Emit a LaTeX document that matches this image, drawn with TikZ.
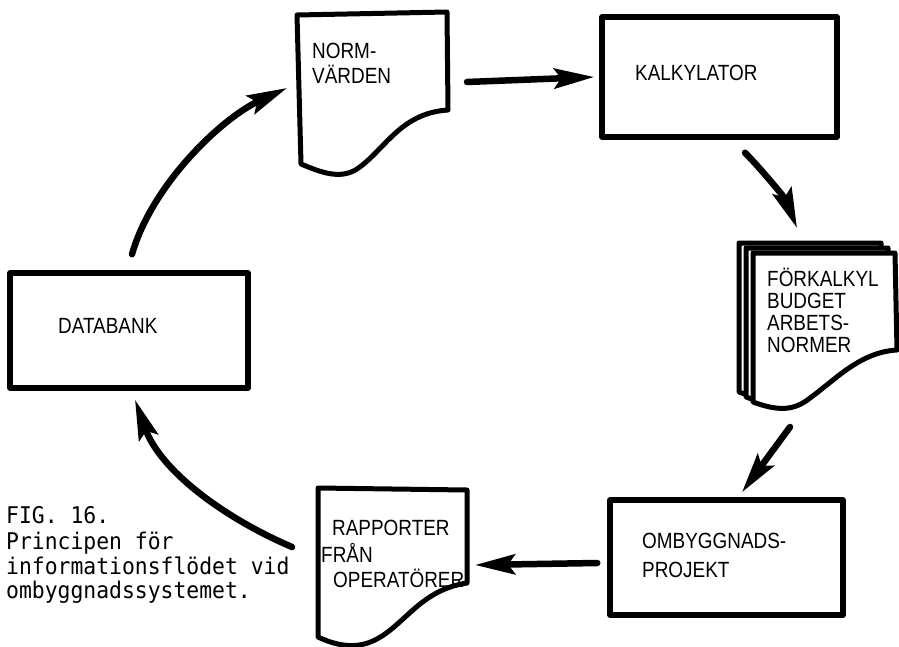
\documentclass[tikz,border=0pt]{standalone}
\usepackage{fontspec}
\usetikzlibrary{arrows.meta,calc}
\setmainfont{Liberation Sans}
\newfontfamily\boxfont[FakeStretch=0.86]{Liberation Sans}
\newfontfamily\capfont[FakeStretch=0.93]{DejaVu Sans Mono}

\begin{document}
\begin{tikzpicture}[x=1pt,y=-1pt,
  frame/.style={draw=black, line width=5.5pt, line join=round, fill=white, inner sep=0pt},
  page/.style={draw=black, line width=5pt, line join=round, fill=white},
  area/.style={inner sep=0pt, outer sep=0pt},
  boxlabel/.style={font=\boxfont\fontsize{22}{24}\selectfont, anchor=base west, inner sep=0pt},
  caption/.style={font=\capfont\fontsize{23}{25}\selectfont, anchor=base west, inner sep=0pt},
  flow/.style={draw=black, line width=6.5pt, line cap=round,
    -{Stealth[length=40pt,width=20pt,inset=7pt]}},
]
% canvas
\fill[white] (0,0) rectangle (899,646);
\useasboundingbox (0,0) rectangle (899,646);

% ---- document: NORM-VÄRDEN
\draw[page] (297,15) -- (447,12) -- (448,110)
  .. controls (400,113) and (385,150) .. (357,169)
  .. controls (340,180) and (320,172) .. (301,164) -- cycle;
\node[area, minimum width=151pt, minimum height=164pt] (norm) at (372.5,94) {};
\node[boxlabel] (tnorm1) at (312,58) {NORM-};
\node[boxlabel] (tnorm2) at (312,83) {VÄRDEN};

% ---- process box: KALKYLATOR
\node[frame, minimum width=235pt, minimum height=120pt] (kalk) at (719.5,77) {};
\node[boxlabel] (tkalk) at (635,80) {KALKYLATOR};

% ---- stack of documents: FÖRKALKYL ...
\foreach \dx/\dy in {-14/-10,-7/-5,0/0}{
  \begin{scope}[shift={(\dx,\dy)}]
    \draw[page] (753,253) -- (895,253) -- (897,350)
      .. controls (860,352) and (835,380) .. (810,398)
      .. controls (795,410) and (780,412) .. (753,402) -- cycle;
  \end{scope}
}
\node[area, minimum width=144pt, minimum height=157pt] (fork) at (825,331.5) {};
\node[boxlabel] (tfork1) at (767,286) {FÖRKALKYL};
\node[boxlabel] (tfork2) at (767,308) {BUDGET};
\node[boxlabel] (tfork3) at (767,330) {ARBETS-};
\node[boxlabel] (tfork4) at (767,352) {NORMER};

% ---- process box: OMBYGGNADSPROJEKT
\node[frame, minimum width=233pt, minimum height=115pt] (omb) at (726.5,557.5) {};
\node[boxlabel] (tomb1) at (642,548) {OMBYGGNADS-};
\node[boxlabel] (tomb2) at (642,577) {PROJEKT};

% ---- document: RAPPORTER FRÅN OPERATÖRER
\draw[page] (318,488) -- (467,490) -- (467,583)
  .. controls (420,590) and (405,625) .. (375,640)
  .. controls (355,650) and (335,645) .. (318,637) -- cycle;
\node[area, minimum width=149pt, minimum height=152pt] (rapp) at (392.5,564) {};
\node[boxlabel] (trapp1) at (332,535) {RAPPORTER};
\node[boxlabel] (trapp2) at (321,562) {FRÅN};
\node[boxlabel] (trapp3) at (333,587) {OPERATÖRER};

% ---- process box: DATABANK
\node[frame, minimum width=238pt, minimum height=115pt] (data) at (129,330.5) {};
\node[boxlabel] (tdata) at (58,333) {DATABANK};

% ---- information flow
\draw[flow] ([xshift=3pt,yshift=16pt]data.north)
  .. controls +(20,-70) and +(-65,30) .. ([xshift=-10pt,yshift=6pt]norm.west);
\draw[flow] ([xshift=19pt,yshift=12pt]norm.east) -- ([xshift=-5pt]kalk.west);
\draw[flow] ([xshift=25.5pt,yshift=-13pt]kalk.south)
  .. controls +(15,15) and +(-12,-30) .. ([xshift=-28pt,yshift=25pt]fork.north);
\draw[flow] ([xshift=-35pt,yshift=-17pt]fork.south) -- ([xshift=15.5pt,yshift=5pt]omb.north);
\draw[flow] ([xshift=-10pt,yshift=-5.5pt]omb.west) -- ([xshift=8pt,yshift=-1pt]rapp.east);
\draw[flow] ([xshift=-26pt,yshift=17pt]rapp.west)
  .. controls +(-70,-30) and +(25,70) .. ([xshift=6pt,yshift=-9pt]data.south);

% ---- caption
\node[caption] (cap1) at (6,523) {FIG. 16.};
\node[caption] (cap2) at (6,549) {Principen för};
\node[caption] (cap3) at (6,574) {informationsflödet vid};
\node[caption] (cap4) at (6,598) {ombyggnadssystemet.};
\end{tikzpicture}
\end{document}
